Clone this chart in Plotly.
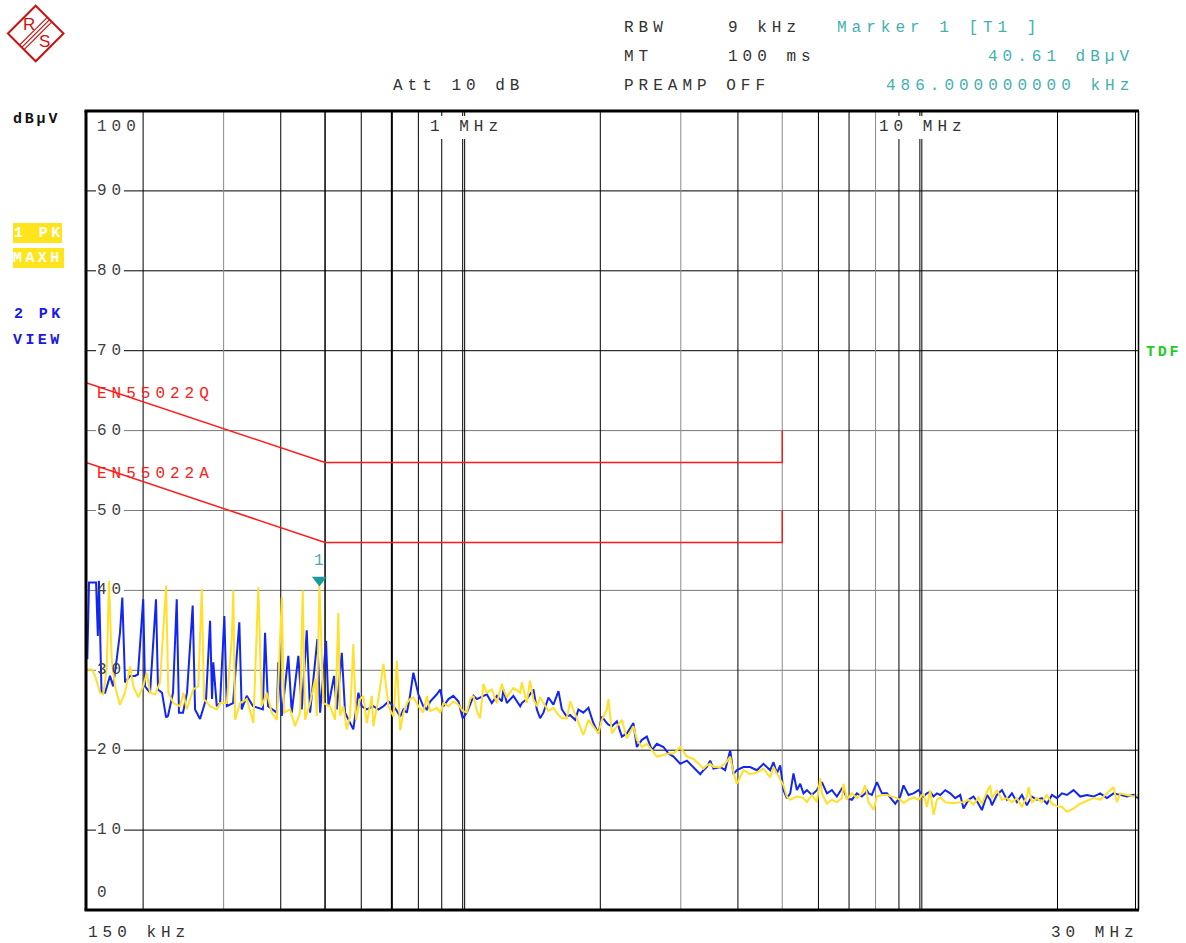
import math
import plotly.graph_objects as go

# ---------------- data (frequency in kHz, level in dBµV) ----------------
blue_low_khz = [151, 152.3, 154.6, 157.8, 159.2, 160.1, 162.2, 165.1, 169.3, 171.9, 175.1, 178.0, 180.1,
                182.6, 187.2, 192.0, 194.9, 200.1, 201.9, 207.1, 210.2, 213.4, 215.6, 220.0, 224.5, 226.7,
                232.5, 236.9, 239.6, 244.5, 249.5, 256.7, 259.8, 266.4, 274.6, 280.2, 283.0, 284.8, 289.8,
                294.7, 301.1, 304.8, 314.6, 324.7, 328.6, 337.1, 347.9, 365.5, 369.6, 375.3, 392.1, 395.2,
                402.1, 415.6, 422.8, 437.1, 444.7, 456.0, 463.7, 481.0, 487.7, 502.6, 508.5, 523.3, 530.5,
                544.0, 553.1, 576.4, 591.4, 601.6, 617.0, 637.5, 654.1]
blue_low_db = [31.4, 41.0, 41.0, 41.0, 34.3, 41.2, 27.2, 27.2, 29.3, 28.0, 31.4, 34.7, 39.1,
               28.5, 29.3, 29.3, 29.5, 38.9, 28.0, 27.2, 33.0, 38.9, 27.6, 27.2, 24.1, 24.3,
               27.2, 38.9, 24.7, 24.7, 27.2, 38.1, 25.1, 23.9, 26.4, 36.2, 26.4, 31.0, 25.5,
               25.9, 36.8, 25.5, 25.9, 36.0, 25.1, 26.8, 25.5, 25.1, 34.7, 25.5, 24.7, 31.0,
               24.3, 31.8, 24.7, 31.8, 25.1, 35.0, 24.7, 33.9, 24.7, 33.7, 25.5, 29.3, 25.1,
               32.2, 24.7, 22.6, 27.2, 25.5, 25.1, 25.5, 25.1]

yellow_low_khz = [150.5, 154.4, 157.0, 161.0, 163.6, 166.5, 168.4, 170.7, 173.6, 178.0, 182.6, 187.2,
                  190.4, 195.2, 200.1, 203.7, 207.1, 212.4, 217.8, 221.4, 224.5, 227.1, 232.9, 240.9,
                  244.9, 249.1, 257.5, 264.1, 268.7, 271.8, 280.2, 289.8, 294.7, 304.8, 312.5, 315.0,
                  317.8, 325.9, 337.1, 348.5, 357.3, 363.5, 372.8, 382.3, 392.1, 402.1, 406.7, 419.3,
                  429.9, 440.9, 446.8, 452.2, 463.7, 475.5, 479.6, 486.0, 495.8, 512.9, 526.0, 534.7,
                  539.4, 548.4, 557.8, 567.2, 576.4, 584.6, 596.5, 606.5, 617.0, 632.7, 637.5, 654.1]
yellow_low_db = [30.1, 30.1, 29.3, 27.2, 27.0, 30.1, 41.2, 31.4, 28.0, 25.7, 27.2, 30.5,
                 28.0, 26.6, 28.0, 29.7, 27.2, 27.0, 28.5, 34.7, 40.6, 27.2, 25.9, 25.5,
                 27.2, 25.1, 27.6, 28.0, 40.2, 26.4, 25.5, 25.1, 25.9, 25.9, 33.9, 40.0,
                 23.8, 25.9, 26.4, 23.4, 40.4, 25.5, 27.2, 24.7, 23.8, 39.1, 24.7, 25.1,
                 23.0, 24.7, 40.0, 23.8, 25.9, 28.9, 24.3, 40.61, 25.9, 25.5, 23.8, 37.2,
                 24.3, 25.5, 22.6, 24.3, 33.3, 23.8, 26.4, 26.8, 23.4, 26.8, 23.0, 26.4]

hi_khz = [671, 688, 706, 718, 730, 742, 755, 767, 780, 800,
          820, 835, 849, 878, 893, 908, 931, 954, 979, 1000,
          1021, 1038, 1056, 1074, 1092, 1110, 1129, 1158, 1188, 1218,
          1228, 1249, 1291, 1336, 1347, 1381, 1403, 1428, 1453, 1477,
          1502, 1540, 1579, 1620, 1648, 1690, 1718, 1762, 1791, 1836,
          1884, 1931, 1981, 2016, 2067, 2084, 2120, 2174, 2229, 2286,
          2363, 2404, 2466, 2528, 2593, 2659, 2749, 2819, 2891, 2991,
          3093, 3197, 3308, 3363, 3421, 3478, 3536, 3658, 3751, 3847,
          3911, 3979, 4113, 4255, 4400, 4549, 4706,
          4784, 4867, 4949, 5031, 5118, 5205, 5291, 5383, 5474, 5565,
          5661, 5805, 5953, 6054, 6105, 6261, 6421, 6584, 6752, 6807,
          6925, 7101, 7282, 7468, 7594, 7659, 7721, 7854, 7917, 8054,
          8260, 8471, 8687, 8833, 9058, 9209, 9444, 9685, 9932, 10185,
          10361, 10536, 10711, 10897, 11081, 11363, 11653, 11950, 12255, 12459,
          12777, 13102, 13437, 13670, 14018, 14254, 14375, 14742, 15118, 15504,
          15900, 16305, 16721, 17147, 17285, 17584, 18033, 18493, 18964, 19448,
          19945, 20453, 20975, 21684, 22429, 23198, 23982, 24807, 25656, 26523,
          26982, 27437, 28376, 29335, 30000]
blue_hi_db = [25.5, 26.1, 25.5, 24.9, 24.2, 25.1, 24.7, 26.8, 29.7, 27.0,
              25.5, 25.1, 26.1, 27.0, 27.6, 25.5, 26.4, 26.8, 26.1, 24.0,
              24.7, 25.7, 26.8, 26.4, 26.6, 26.8, 27.0, 25.9, 26.8, 26.1,
              27.6, 25.9, 26.8, 25.5, 25.9, 26.4, 27.0, 27.6, 25.1, 24.0,
              24.7, 26.6, 25.7, 27.4, 25.1, 24.2, 24.4, 23.8, 25.1, 24.7,
              25.3, 23.4, 22.1, 24.2, 23.4, 23.2, 23.0, 23.6, 21.7, 22.1,
              23.4, 20.4, 21.3, 21.7, 20.0, 20.8, 20.4, 19.6, 19.2, 18.3,
              18.7, 17.9, 17.0, 17.5, 17.9, 18.7, 17.7, 17.9, 17.5, 20.0,
              17.0, 17.5, 17.9, 17.9, 17.5, 18.3, 17.5,
              18.5, 17.1, 18.1, 15.0, 14.0, 14.6, 17.1, 15.0, 15.8, 14.6,
              15.0, 14.4, 15.0, 15.6, 16.0, 14.6, 15.0, 14.2, 15.2, 15.0,
              14.0, 13.8, 14.6, 14.2, 14.6, 15.0, 14.6, 14.4, 15.0, 16.0,
              14.6, 14.6, 13.8, 13.3, 14.2, 15.6, 14.4, 14.6, 15.0, 14.2,
              14.6, 14.8, 14.2, 14.6, 14.4, 15.0, 14.6, 14.0, 14.4, 12.7,
              13.8, 14.2, 13.3, 12.5, 14.4, 13.8, 13.1, 14.4, 15.0, 13.8,
              14.6, 13.5, 14.4, 13.1, 13.5, 14.2, 13.8, 14.0, 13.3, 14.4,
              14.0, 14.6, 14.4, 15.0, 14.2, 14.4, 14.2, 14.6, 14.0, 14.6,
              14.5, 14.4, 14.2, 14.4, 14.0]
yellow_hi_db = [30.8, 25.5, 24.2, 31.2, 22.5, 24.7, 25.9, 26.4, 26.6, 25.5,
                24.7, 26.8, 24.9, 25.3, 24.7, 25.9, 25.5, 26.1, 25.7, 24.9,
                24.7, 26.4, 26.8, 24.9, 24.0, 28.3, 27.2, 27.6, 25.9, 28.3,
                27.6, 26.6, 27.8, 27.2, 28.5, 25.9, 28.7, 26.4, 25.5, 26.6,
                25.9, 24.9, 25.3, 24.4, 24.0, 24.0, 26.1, 24.4, 23.4, 21.9,
                23.8, 23.0, 22.1, 23.8, 25.1, 26.4, 22.1, 23.0, 23.8, 21.5,
                23.0, 21.3, 20.4, 20.8, 20.0, 19.2, 19.4, 19.6, 19.6, 20.4,
                19.2, 18.9, 18.1, 17.7, 18.1, 18.3, 17.9, 17.9, 18.3, 19.2,
                17.2, 15.8, 17.5, 17.0, 17.2, 17.7, 16.6,
                17.9, 17.1, 16.3, 15.6, 14.2, 13.8, 14.0, 14.2, 14.1, 14.0,
                13.5, 14.4, 13.5, 16.5, 14.6, 13.3, 13.8, 13.5, 14.0, 15.8,
                13.8, 14.6, 14.0, 14.6, 15.6, 14.4, 13.5, 12.9, 12.5, 14.2,
                14.4, 14.4, 14.2, 14.1, 13.8, 13.4, 13.8, 14.1, 13.8, 14.6,
                12.9, 15.0, 11.9, 13.8, 14.1, 13.5, 13.4, 13.4, 13.5, 13.5,
                13.8, 13.2, 14.1, 13.3, 14.8, 15.6, 14.0, 15.0, 13.8, 14.0,
                13.5, 14.0, 12.9, 14.2, 15.4, 13.5, 14.0, 13.5, 14.4, 13.3,
                13.0, 12.9, 12.3, 12.7, 13.3, 13.7, 14.0, 13.8, 14.6, 15.4,
                13.5, 14.6, 14.4, 14.2, 14.4]

limit_q_khz = [150, 500, 5000, 5000]
limit_q_db = [66, 56, 56, 60]
limit_a_khz = [150, 500, 5000, 5000]
limit_a_db = [56, 46, 46, 50]

marker_khz = 486.0
marker_db = 40.61

y_ticks = [100, 90, 80, 70, 60, 50, 40, 30, 20, 10, 0]
black_h = [90, 80, 70, 20, 10]
gray_h = [60, 50, 40, 30]
# vertical grid: (freq kHz, colour, width)
v_full = [(200, 'k', 1), (300, 'g', 1), (400, 'k', 1), (500, 'k', 1.5), (600, 'k', 1), (700, 'k', 2),
          (800, 'k', 1), (2000, 'k', 1), (3000, 'g', 1), (4000, 'k', 1), (5000, 'g', 1), (6000, 'k', 1),
          (7000, 'k', 1), (8000, 'g', 1), (20000, 'k', 1)]
v_cut = [900, 1000, 1010, 9000, 10000, 10100]

# ---------------- styling ----------------
W, H = 1186, 943
L, R, T, B = 86, 1138, 111, 910
BLUE = '#1226f2'
YELLOW = '#ffe02a'
RED = '#ff1a1a'
TEAL = '#3fb1b1'
TEXT = '#333333'
MONO = 'Liberation Mono'


def PX(x):
    return (x - L) / (R - L)


def PY(y):
    return (B - y) / (B - T)


blue_f = blue_low_khz + hi_khz
blue_v = blue_low_db + blue_hi_db
yel_f = yellow_low_khz + hi_khz
yel_v = yellow_low_db + yellow_hi_db

fig = go.Figure()
fig.add_trace(go.Scatter(x=blue_f, y=blue_v, mode='lines', line=dict(color=BLUE, width=2),
                         hoverinfo='skip', showlegend=False))
fig.add_trace(go.Scatter(x=yel_f, y=yel_v, mode='lines', line=dict(color=YELLOW, width=2),
                         hoverinfo='skip', showlegend=False))
fig.add_trace(go.Scatter(x=limit_q_khz, y=limit_q_db, mode='lines', line=dict(color=RED, width=1.5),
                         hoverinfo='skip', showlegend=False))
fig.add_trace(go.Scatter(x=limit_a_khz, y=limit_a_db, mode='lines', line=dict(color=RED, width=1.5),
                         hoverinfo='skip', showlegend=False))
fig.add_trace(go.Scatter(x=[marker_khz], y=[marker_db + 0.7], mode='markers', cliponaxis=False,
                         marker=dict(symbol='triangle-down', size=13, color='#1a9a9a', line=dict(width=0)),
                         hoverinfo='skip', showlegend=False))

shapes = []
gx0, gx1 = PX(96), PX(124)
for v in black_h + gray_h:
    col = '#000000' if v in black_h else '#7a7a7a'
    shapes.append(dict(type='line', xref='paper', yref='y', x0=0, x1=gx0, y0=v, y1=v,
                       line=dict(color=col, width=1), layer='below'))
    shapes.append(dict(type='line', xref='paper', yref='y', x0=gx1, x1=1, y0=v, y1=v,
                       line=dict(color=col, width=1), layer='below'))
for f, c, w in v_full:
    col = '#000000' if c == 'k' else '#8a8a8a'
    shapes.append(dict(type='line', xref='x', yref='paper', x0=f, x1=f,
                       y0=0, y1=1, line=dict(color=col, width=w), layer='below'))
for f in v_cut:
    shapes.append(dict(type='line', xref='x', yref='paper', x0=f, x1=f,
                       y0=0, y1=PY(139), line=dict(color='#000000', width=1), layer='below'))
    shapes.append(dict(type='line', xref='x', yref='paper', x0=f, x1=f,
                       y0=PY(116), y1=1, line=dict(color='#000000', width=1), layer='below'))
# frame
shapes += [
    dict(type='line', xref='paper', yref='paper', x0=PX(84.5), x1=PX(1139), y0=1, y1=1,
         line=dict(color='black', width=3)),
    dict(type='line', xref='paper', yref='paper', x0=PX(84.5), x1=PX(1139), y0=0, y1=0,
         line=dict(color='black', width=3)),
    dict(type='line', xref='paper', yref='paper', x0=0, x1=0, y0=0, y1=1,
         line=dict(color='black', width=3)),
    dict(type='line', xref='paper', yref='paper', x0=PX(1135.5), x1=PX(1135.5), y0=0, y1=1,
         line=dict(color='black', width=1)),
    dict(type='line', xref='paper', yref='paper', x0=PX(1138.5), x1=PX(1138.5), y0=0, y1=1,
         line=dict(color='black', width=1.5)),
]
# legend boxes
shapes += [
    dict(type='rect', xref='paper', yref='paper', x0=PX(13), x1=PX(62), y0=PY(243), y1=PY(223),
         fillcolor='#ffe41c', line=dict(width=0)),
    dict(type='rect', xref='paper', yref='paper', x0=PX(13), x1=PX(64), y0=PY(268), y1=PY(248),
         fillcolor='#ffe41c', line=dict(width=0)),
]
# R&S logo
cx, cy, hs = 35.7, 33.5, 27.8
logo = 'M {},{} L {},{} L {},{} L {},{} Z'.format(
    PX(cx), PY(cy - hs), PX(cx + hs), PY(cy), PX(cx), PY(cy + hs), PX(cx - hs), PY(cy))
shapes.append(dict(type='path', xref='paper', yref='paper', path=logo,
                   line=dict(color='#cc1111', width=2)))
for d in (-2.3, 0, 2.3):
    shapes.append(dict(type='line', xref='paper', yref='paper',
                       x0=PX(cx - hs / 2 + d), y0=PY(cy + hs / 2 + d),
                       x1=PX(cx + hs / 2 + d), y1=PY(cy - hs / 2 + d),
                       line=dict(color='#cc1111', width=1.2)))

ann = []


def text(s, x, y, anchor='left', color=TEXT, size=16, bold=False, ls=5.0, family=MONO):
    t = '<span style="letter-spacing:{}px">{}</span>'.format(ls, s)
    if bold:
        t = '<b>' + t + '</b>'
    if anchor == 'right':
        x = x + ls
    ann.append(dict(text=t, x=PX(x), y=PY(y), xref='paper', yref='paper', xanchor=anchor,
                    yanchor='middle', showarrow=False, borderpad=0,
                    font=dict(family=family, size=size, color=color)))


# header
text('RBW', 623, 28)
text('9 kHz', 727, 28)
text('Marker 1 [T1 ]', 836, 28, color=TEAL)
text('MT', 623, 57)
text('100 ms', 727, 57)
text('40.61 dBµV', 1130, 57, anchor='right', color=TEAL)
text('Att 10 dB', 392, 86)
text('PREAMP OFF', 623, 86)
text('486.000000000 kHz', 1130, 86, anchor='right', color=TEAL)
# axis texts
text('1 MHz', 429, 127)
text('10 MHz', 878, 127)
for v in y_ticks:
    yy = B - v * (B - T) / 100.0
    if v == 100:
        yy = 127
    if v == 0:
        yy = 893
    text(str(v), 96, yy, color='#404040')
text('150 kHz', 87, 933)
text('30 MHz', 1135, 933, anchor='right')
text('EN55022Q', 96, 394, color=RED)
text('EN55022A', 96, 474, color=RED)
# side labels
text('dBµV', 12, 119, color='#111111', size=15, bold=True, ls=2.8)
text('1 PK', 13, 233, color='#ffffff', size=15, bold=True, ls=3.4)
text('MAXH', 12, 258, color='#ffffff', size=15, bold=True, ls=3.4)
text('2 PK', 13, 314, color='#1a1ae6', size=15, bold=True, ls=3.4)
text('VIEW', 12, 340, color='#1a1ae6', size=15, bold=True, ls=3.4)
text('TDF', 1145, 352, color='#22cc22', size=15, bold=True, ls=2.8)
# logo letters
text('R', 22, 25, color='#cc1111', size=17, ls=0, family='Liberation Sans')
text('S', 38, 41, color='#cc1111', size=17, ls=0, family='Liberation Sans')
# marker label
ann.append(dict(text='1', x=math.log10(marker_khz), y=marker_db, xref='x', yref='y', yshift=25,
                xanchor='center', yanchor='middle', showarrow=False,
                font=dict(family=MONO, size=16, color=TEAL)))

fig.update_layout(
    width=W, height=H, autosize=False,
    margin=dict(l=L, r=W - R, t=T, b=H - B, pad=0),
    paper_bgcolor='white', plot_bgcolor='white',
    xaxis=dict(type='log', range=[math.log10(150), math.log10(30000)], showgrid=False,
               showticklabels=False, zeroline=False, showline=False, ticks=''),
    yaxis=dict(range=[0, 100], showgrid=False, showticklabels=False, zeroline=False,
               showline=False, ticks=''),
    shapes=shapes, annotations=ann, hovermode=False, showlegend=False,
)
fig.write_html('out.html', config={'displayModeBar': False},
               post_script="document.body.style.margin='0';document.body.style.overflow='hidden';")
